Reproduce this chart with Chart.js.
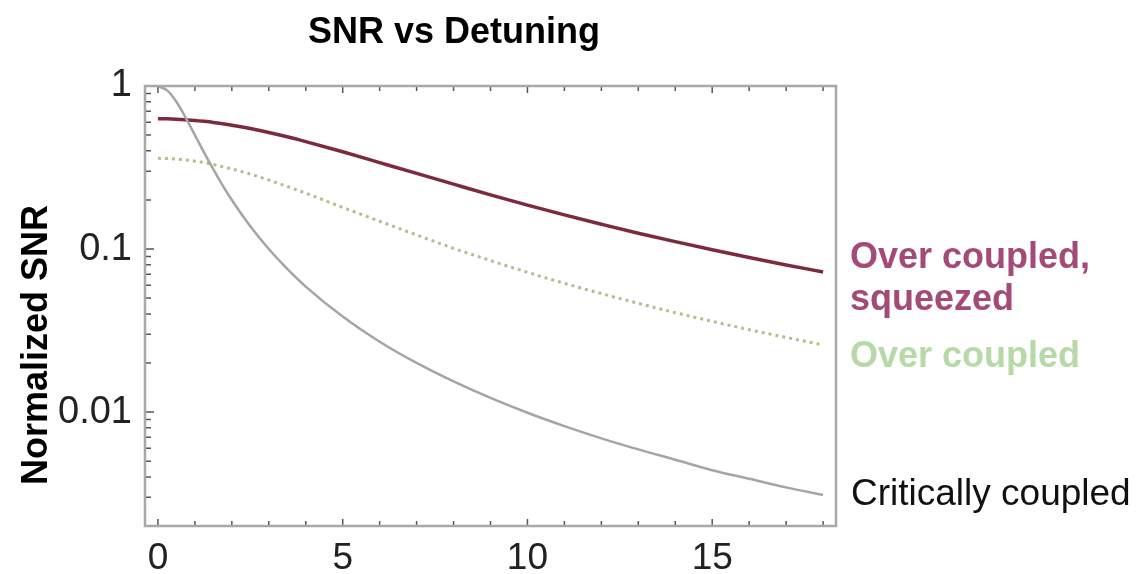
<!DOCTYPE html>
<html>
<head>
<meta charset="utf-8">
<script src="https://cdn.jsdelivr.net/npm/chart.js@4"></script>
<style>
  body { margin: 0; background: #fff; }
  #wrap { position: relative; width: 1138px; height: 574px; font-family: "Liberation Sans", Arial, sans-serif; }
  .txt { position: absolute; font-size: 36px; line-height: 36px; white-space: nowrap; }
  .bold { font-weight: bold; }
</style>
</head>
<body>
<div id="wrap">
  <canvas id="chart" width="1138" height="574"></canvas>
  <div class="txt bold" style="left:454px; top:13px; transform:translateX(-50%);">SNR vs Detuning</div>
  <div class="txt bold" style="left:-165px; top:327px; width:400px; text-align:center; transform:rotate(-90deg);">Normalized SNR</div>
  <div class="txt bold" style="left:850px; top:238px; color:#a34a77;">Over coupled,</div>
  <div class="txt bold" style="left:850px; top:280px; color:#a34a77;">squeezed</div>
  <div class="txt bold" style="left:850px; top:337px; color:#b7d9a8;">Over coupled</div>
  <div class="txt" style="left:851px; top:475px; color:#111; font-size:37px;">Critically coupled</div>
</div>
<script>
// detuning values and normalized SNR
const detuning = [0, 0.25, 0.5, 0.75, 1, 1.25, 1.5, 1.75, 2, 2.5, 3, 3.5, 4, 5, 6, 7, 8, 9, 10, 11, 12, 13, 14, 15, 16, 17, 18];
const squeezed = [0.63, 0.629, 0.626, 0.621, 0.615, 0.607, 0.598, 0.587, 0.575, 0.548, 0.519, 0.488, 0.456, 0.395, 0.339, 0.291, 0.250, 0.215, 0.186, 0.162, 0.142, 0.125, 0.111, 0.099, 0.0888, 0.0799, 0.0723];
const overCoupled = [0.36, 0.359, 0.356, 0.352, 0.346, 0.339, 0.330, 0.320, 0.310, 0.288, 0.265, 0.242, 0.220, 0.180, 0.148, 0.122, 0.101, 0.085, 0.072, 0.0616, 0.0533, 0.0464, 0.0407, 0.036, 0.032, 0.0287, 0.0258];
const critical = [1.0, 0.94, 0.8, 0.64, 0.5, 0.39, 0.308, 0.246, 0.2, 0.138, 0.1, 0.0755, 0.0588, 0.0385, 0.027, 0.02, 0.0154, 0.0122, 0.0099, 0.0082, 0.0069, 0.0059, 0.0051, 0.0044, 0.0039, 0.00345, 0.0031];
const xTickLabels = [0, 5, 10, 15];
const yTickLabels = [1, 0.1, 0.01];

function pts(ys) {
    return detuning.map((x, i) => ({x: x, y: ys[i]}));
}

// frame and inward tick marks like the original plot
const framePlugin = {
    id: 'frame',
    afterDatasetsDraw(chart) {
        const {ctx, chartArea: a, scales} = chart;
        ctx.save();
        ctx.strokeStyle = '#555';
        ctx.lineWidth = 1.5;
        ctx.beginPath();
        for (let k = -3; k <= 0; k++) {
            for (let m = 1; m <= 9; m++) {
                const v = m * Math.pow(10, k);
                if (v < 0.002 || v > 1) continue;
                const y = scales.y.getPixelForValue(v);
                const len = m === 1 ? 9 : 6;
                ctx.moveTo(a.left, y);
                ctx.lineTo(a.left + len, y);
            }
        }
        for (let i = 0; i <= 18; i++) {
            const x = scales.x.getPixelForValue(i);
            const len = i % 5 === 0 ? 7 : 5;
            ctx.moveTo(x, a.bottom);
            ctx.lineTo(x, a.bottom - len);
            ctx.moveTo(x, a.top);
            ctx.lineTo(x, a.top + len);
        }
        ctx.stroke();
        ctx.strokeStyle = '#a8a8a8';
        ctx.lineWidth = 2.5;
        ctx.strokeRect(a.left, a.top, a.right - a.left, a.bottom - a.top);
        ctx.restore();
    }
};

new Chart('chart', {
    type: 'line',
    data: {
        datasets: [
            {
                data: pts(critical),
                borderColor: '#a5a5a5',
                borderWidth: 2.5,
                pointRadius: 0,
                cubicInterpolationMode: 'monotone'
            },
            {
                data: pts(overCoupled),
                borderColor: '#b6bd8e',
                borderWidth: 3,
                borderDash: [3, 4],
                pointRadius: 0,
                cubicInterpolationMode: 'monotone'
            },
            {
                data: pts(squeezed),
                borderColor: '#7c2b3e',
                borderWidth: 3.5,
                pointRadius: 0,
                cubicInterpolationMode: 'monotone'
            }
        ]
    },
    options: {
        responsive: false,
        animation: false,
        devicePixelRatio: 1,
        layout: {padding: {top: 86, right: 302, left: 0, bottom: 0}},
        plugins: {legend: {display: false}, tooltip: {enabled: false}},
        scales: {
            x: {
                type: 'linear',
                min: -0.35,
                max: 18.35,
                grid: {display: false},
                border: {display: false},
                afterBuildTicks: (s) => { s.ticks = xTickLabels.map(v => ({value: v})); },
                afterFit: (s) => { s.height = 48; },
                ticks: {
                    color: '#222',
                    padding: 3,
                    maxRotation: 0,
                    font: {family: 'Liberation Sans', size: 37},
                    callback: (v) => String(v)
                }
            },
            y: {
                type: 'logarithmic',
                min: 0.002,
                max: 1,
                grid: {display: false},
                border: {display: false},
                afterBuildTicks: (s) => { s.ticks = yTickLabels.map(v => ({value: v})); },
                afterFit: (s) => { s.width = 145; },
                ticks: {
                    color: '#222',
                    padding: 5,
                    font: {family: 'Liberation Sans', size: 38},
                    callback: (v) => String(v)
                }
            }
        }
    },
    plugins: [framePlugin]
});
</script>
</body>
</html>
